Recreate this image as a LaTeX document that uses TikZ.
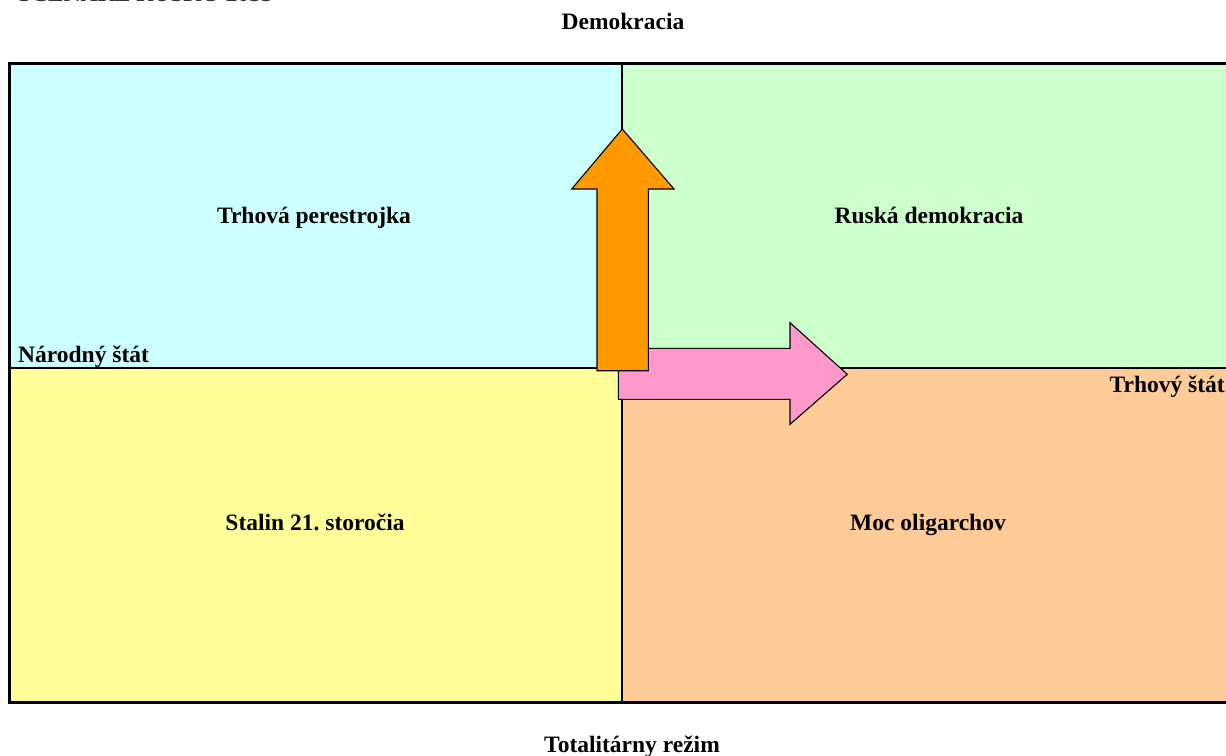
\documentclass[tikz,border=0pt]{standalone}
\usepackage{fontspec}
\setmainfont{Liberation Serif}
\frenchspacing
\definecolor{qcyan}{HTML}{CCFFFF}
\definecolor{qgreen}{HTML}{CCFFCC}
\definecolor{qyellow}{HTML}{FFFF99}
\definecolor{qpeach}{HTML}{FFCC99}
\definecolor{aorange}{HTML}{FF9900}
\definecolor{apink}{HTML}{FF99CC}
\tikzset{
  lbl/.style={inner sep=0pt, anchor=base, font=\fontsize{23.5}{28}\selectfont\bfseries},
  blockarrow/.style={draw=black, line width=1.1pt, line join=miter},
}
\begin{document}
\begin{tikzpicture}[x=1pt,y=-1pt]
\useasboundingbox (0,0) rectangle (1226,755);
% quadrants
\fill[qcyan]   (9,63) rectangle (622,368);
\fill[qgreen]  (622,63) rectangle (1230,368);
\fill[qyellow] (9,368) rectangle (622,702);
\fill[qpeach]  (622,368) rectangle (1230,702);
\draw[line width=2pt] (622,63) -- (622,702);
\draw[line width=2pt] (9,368) -- (1230,368);
\draw[line width=3pt] (1232,63) -- (9,63) -- (9,702) -- (1232,702);
% arrows
\fill[apink, blockarrow] (618.3,348.3) -- (790,348.3) -- (790,322.7) -- (847.3,374.3)
  -- (790,424.3) -- (790,399.3) -- (618.3,399.3) -- cycle;
\fill[aorange, blockarrow] (597,370.7) -- (597,189) -- (571.7,189) -- (622.3,129)
  -- (674,189) -- (648.3,189) -- (648.3,370.7) -- cycle;
% labels
\node[lbl, anchor=base west, text=black!80] (title) at (18,1.5) {SCENÁRE RUSKO 2035};
\node[lbl] (demo) at (623,29) {Demokracia};
\node[lbl] (tp) at (314,223) {Trhová perestrojka};
\node[lbl] (rd) at (929,223) {Ruská demokracia};
\node[lbl, anchor=base west] (ns) at (18,362) {Národný štát};
\node[lbl, anchor=base east] (ts) at (1225,392) {Trhový štát};
\node[lbl] (st) at (315,530) {Stalin 21. storočia};
\node[lbl] (mo) at (928,530) {Moc oligarchov};
\node[lbl] (tr) at (632,752) {Totalitárny režim};
\end{tikzpicture}
\end{document}
